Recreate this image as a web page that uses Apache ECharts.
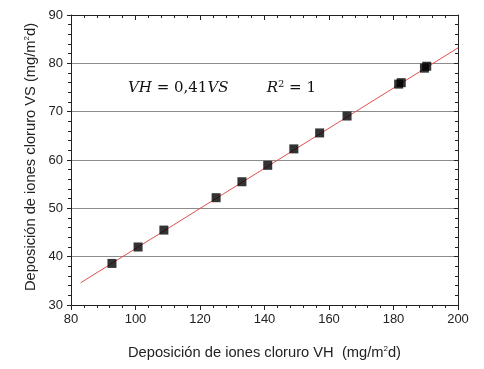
<!DOCTYPE html>
<html>
<head>
<meta charset="utf-8">
<script src="https://cdn.jsdelivr.net/npm/echarts@6/dist/echarts.min.js"></script>
<style>
  html, body { margin: 0; padding: 0; background: #fff; }
  #chart { width: 484px; height: 369px; }
</style>
</head>
<body>
<div id="chart"></div>
<script>
// measured points (VH, VS)
var vh = [92.7, 100.8, 108.8, 125.0, 133.0, 141.0, 149.1, 157.1, 165.6, 181.6, 182.4, 189.6, 190.3];
var vs = [38.6, 42.0, 45.5, 52.2, 55.5, 58.9, 62.3, 65.6, 69.1, 75.7, 76.0, 79.0, 79.4];
// fitted line ends
var fitX = [83, 200];
var fitY = [34.6, 83.2];

var font = 'Liberation Sans';
var myChart = echarts.init(document.getElementById('chart'));

var points = vh.map(function (x, i) { return [x, vs[i]]; });
var fit = fitX.map(function (x, i) { return [x, fitY[i]]; });

var supStyle = { fontSize: 8, verticalAlign: 'top', padding: [0, 0, 8, 0], fontFamily: font, color: '#222' };

var option = {
    animation: false,
    backgroundColor: '#fff',
    grid: { left: 71, right: 26, top: 15, bottom: 64 },
    xAxis: [
        {
            type: 'value', min: 80, max: 200, interval: 20,
            name: 'Deposición de iones cloruro VH  (mg/m{sup|2}d)',
            nameLocation: 'middle', nameGap: 40,
            nameTextStyle: { fontFamily: font, fontSize: 14.7, color: '#222', rich: { sup: supStyle } },
            axisLine: { lineStyle: { color: '#222', width: 1 } },
            axisTick: { inside: false, length: 5, lineStyle: { color: '#222' } },
            minorTick: { show: true, splitNumber: 5, length: 3, lineStyle: { color: '#222' } },
            axisLabel: { margin: 8, fontFamily: font, fontSize: 13, color: '#222' },
            splitLine: { show: false }
        },
        {
            type: 'value', min: 80, max: 200, interval: 20, position: 'top',
            axisLine: { lineStyle: { color: '#222', width: 1 } },
            axisTick: { inside: true, length: 5, lineStyle: { color: '#222' } },
            minorTick: { show: true, splitNumber: 5, length: 3, lineStyle: { color: '#222' } },
            axisLabel: { show: false },
            splitLine: { show: false }
        }
    ],
    yAxis: [
        {
            type: 'value', min: 30, max: 90, interval: 10,
            axisLine: { show: true, lineStyle: { color: '#222', width: 1 } },
            axisTick: { show: true, inside: false, length: 4, lineStyle: { color: '#222' } },
            minorTick: { show: true, splitNumber: 5, length: 3, lineStyle: { color: '#222' } },
            axisLabel: { margin: 8, fontFamily: font, fontSize: 13, color: '#222' },
            splitLine: { show: true, lineStyle: { color: '#8c8c8c', width: 1 } }
        },
        {
            type: 'value', min: 30, max: 90, interval: 10, position: 'right',
            axisLine: { show: true, lineStyle: { color: '#222', width: 1 } },
            axisTick: { show: true, inside: true, length: 4, lineStyle: { color: '#222' } },
            minorTick: { show: true, splitNumber: 5, length: 3, lineStyle: { color: '#222' } },
            axisLabel: { show: false },
            splitLine: { show: false }
        }
    ],
    graphic: [
        {
            type: 'text',
            x: 31, y: 157,
            rotation: Math.PI / 2,
            style: {
                text: 'Deposición de iones cloruro VS (mg/m{sup|2}d)',
                fontFamily: font, fontSize: 14.7, fill: '#222',
                align: 'center', verticalAlign: 'middle',
                rich: { sup: { fontSize: 8, verticalAlign: 'top', padding: [0, 0, 8, 0], fontFamily: font, fill: '#222' } }
            }
        },
        {
            type: 'text',
            x: 128, y: 88,
            style: {
                text: '{i|VH} = 0,41{i|VS}        {i|R}{sup|2} = 1',
                fontFamily: 'DejaVu Serif', fontSize: 15, fill: '#111',
                verticalAlign: 'middle',
                rich: {
                    i: { fontFamily: 'DejaVu Serif', fontStyle: 'italic', fontSize: 15, fill: '#111' },
                    sup: { fontFamily: 'DejaVu Serif', fontSize: 10, verticalAlign: 'top', padding: [0, 0, 8, 0], fill: '#111' }
                }
            }
        }
    ],
    series: [
        {
            type: 'line',
            data: fit,
            showSymbol: false,
            lineStyle: { color: '#e05050', width: 1 },
            z: 3
        },
        {
            type: 'scatter',
            data: points,
            symbol: 'rect',
            symbolSize: 9,
            itemStyle: { color: '#000' },
            z: 4
        }
    ]
};

myChart.setOption(option);
</script>
</body>
</html>
